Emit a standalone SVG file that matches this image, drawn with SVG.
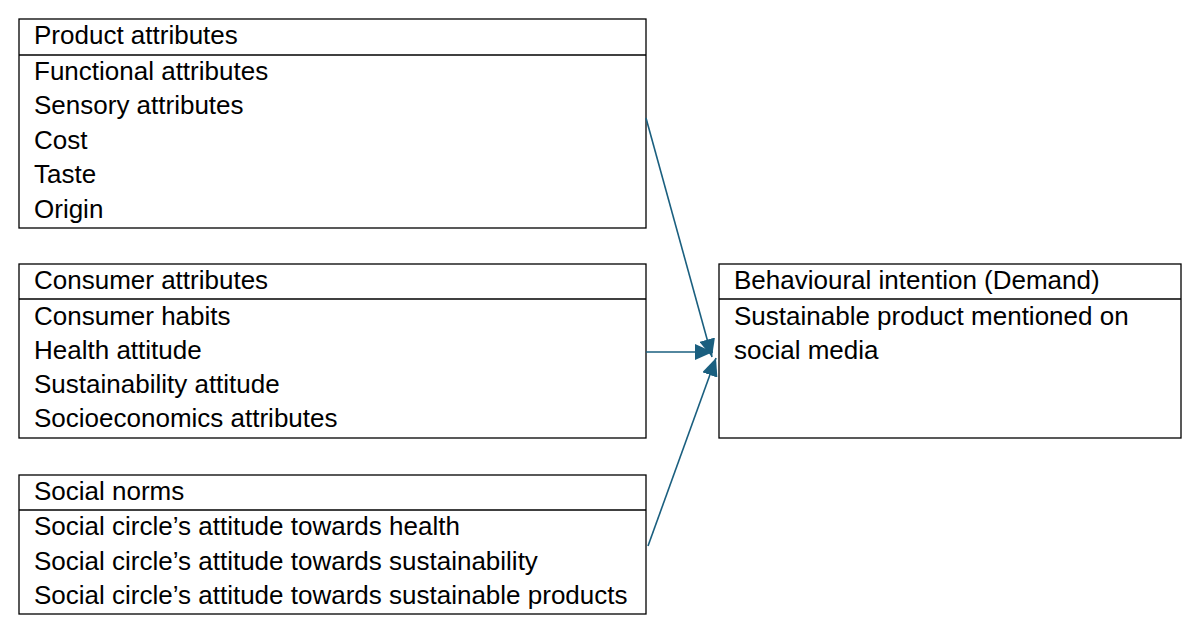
<svg xmlns="http://www.w3.org/2000/svg" width="1200" height="634" viewBox="0 0 1200 634">
<style>
.box{fill:#fff;stroke:#000;stroke-width:1.3}
.sep{stroke:#000;stroke-width:1.3}
text{font-family:"Liberation Sans",Arial,sans-serif;font-size:26px;fill:#000}
.conn{stroke:#1a5f7f;stroke-width:1.6;fill:none}
</style>
<defs>
<marker id="arr" viewBox="0 0 18 16" refX="18" refY="8" markerWidth="18" markerHeight="16" markerUnits="userSpaceOnUse" orient="auto">
<path d="M0,0 L18,8 L0,16 z" fill="#1a5f7f"/>
</marker>
</defs>
<g id="product">
<rect class="box" x="19" y="19" width="627" height="209"/>
<line class="sep" x1="19" y1="55" x2="646" y2="55"/>
<text x="34" y="44">Product attributes</text>
<text x="34" y="80">Functional attributes</text>
<text x="34" y="114">Sensory attributes</text>
<text x="34" y="149">Cost</text>
<text x="34" y="183">Taste</text>
<text x="34" y="218">Origin</text>
</g>
<g id="consumer">
<rect class="box" x="19" y="264" width="627" height="174"/>
<line class="sep" x1="19" y1="299" x2="646" y2="299"/>
<text x="34" y="289">Consumer attributes</text>
<text x="34" y="325">Consumer habits</text>
<text x="34" y="359">Health attitude</text>
<text x="34" y="393">Sustainability attitude</text>
<text x="34" y="427">Socioeconomics attributes</text>
</g>
<g id="social">
<rect class="box" x="19" y="475" width="627" height="139"/>
<line class="sep" x1="19" y1="510" x2="646" y2="510"/>
<text x="34" y="500">Social norms</text>
<text x="34" y="535">Social circle’s attitude towards health</text>
<text x="34" y="570">Social circle’s attitude towards sustainability</text>
<text x="34" y="604">Social circle’s attitude towards sustainable products</text>
</g>
<g id="behaviour">
<rect class="box" x="719" y="264" width="462" height="174"/>
<line class="sep" x1="719" y1="299" x2="1181" y2="299"/>
<text x="734" y="289">Behavioural intention (Demand)</text>
<text x="734" y="325">Sustainable product mentioned on</text>
<text x="734" y="359">social media</text>
</g>
<g id="connectors">
<line class="conn" x1="646" y1="118" x2="712" y2="357" marker-end="url(#arr)"/>
<line class="conn" x1="646" y1="352" x2="713" y2="352" marker-end="url(#arr)"/>
<line class="conn" x1="648" y1="546" x2="716" y2="358" marker-end="url(#arr)"/>
</g>
</svg>
